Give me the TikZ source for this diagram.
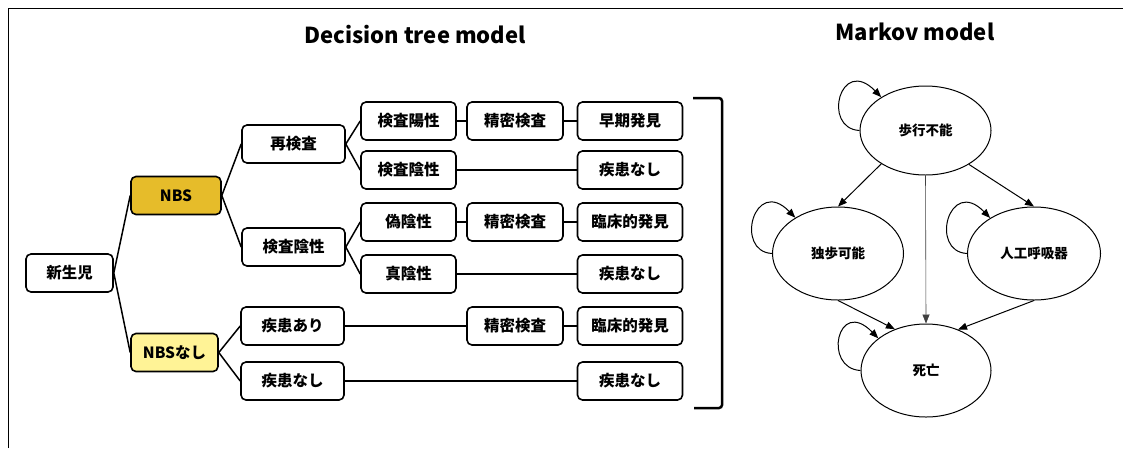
\documentclass[tikz,border=0pt]{standalone}
\usepackage{fontspec}
\setmainfont{Noto Sans CJK JP}
\usetikzlibrary{shapes.geometric,arrows.meta}
\definecolor{nbsgold}{RGB}{230,188,42}
\definecolor{nbslight}{RGB}{255,243,150}
\begin{document}
\begin{tikzpicture}[x=1pt,y=-1pt,
  box/.style={draw, line width=1.6pt, rounded corners=5pt, minimum height=38pt,
    inner sep=0pt, fill=white, font=\fontsize{15.5}{15.5}\selectfont\bfseries},
  link/.style={line width=1.5pt},
  state/.style={draw, ellipse, line width=1pt, inner sep=0pt,
    font=\fontsize{13.5}{13.5}\selectfont\bfseries},
  arr/.style={line width=1pt, -{Triangle[length=9pt,width=7pt]}},
  thinarr/.style={line width=0.6pt, draw=black!75, -{Triangle[length=9pt,width=7pt]}},
  title/.style={font=\fontsize{22}{22}\selectfont\bfseries, anchor=base}]
\useasboundingbox (0,0) rectangle (1123,448);
% outer frame (top and left edges)
\draw[line width=1pt] (8,448) -- (8,8) -- (1123,8);

% titles
\node[title] (ttree) at (415,43) {Decision tree model};
\node[title] (tmarkov) at (915,40) {Markov model};

% ---------- decision tree ----------
\node[box, minimum width=87pt] (root) at (69.5,273) {新生児};
\node[box, minimum width=90pt, fill=nbsgold] (nbs) at (176,195.5) {NBS};
\node[box, minimum width=87pt, fill=nbslight] (nonbs) at (174.5,352.5) {NBSなし};

\node[box, minimum width=103pt] (retest) at (293.5,144) {再検査};
\node[box, minimum width=103pt] (neg) at (293.5,247) {検査陰性};
\node[box, minimum width=103pt] (dis) at (292.5,326) {疾患あり};
\node[box, minimum width=103pt] (nodis) at (292.5,381) {疾患なし};

\node[box, minimum width=95pt] (rpos) at (408.5,121) {検査陽性};
\node[box, minimum width=95pt] (rneg) at (408.5,170) {検査陰性};
\node[box, minimum width=95pt] (fneg) at (408.5,222) {偽陰性};
\node[box, minimum width=95pt] (tneg) at (408.5,274) {真陰性};

\node[box, minimum width=96pt] (ex1) at (515,121) {精密検査};
\node[box, minimum width=96pt] (ex2) at (515,222) {精密検査};
\node[box, minimum width=96pt] (ex3) at (515,326) {精密検査};

\node[box, minimum width=105pt] (o1) at (630,121) {早期発見};
\node[box, minimum width=105pt] (o2) at (630,170) {疾患なし};
\node[box, minimum width=105pt] (o3) at (630,222) {臨床的発見};
\node[box, minimum width=105pt] (o4) at (630,274) {疾患なし};
\node[box, minimum width=105pt] (o5) at (630,326) {臨床的発見};
\node[box, minimum width=105pt] (o6) at (630,381) {疾患なし};

\draw[link] (root.east) -- (nbs.west);
\draw[link] (root.east) -- (nonbs.west);
\draw[link] (nbs.east) -- (retest.west);
\draw[link] (nbs.east) -- (neg.west);
\draw[link] (nonbs.east) -- (dis.west);
\draw[link] (nonbs.east) -- (nodis.west);
\draw[link] (retest.east) -- (rpos.west);
\draw[link] (retest.east) -- (rneg.west);
\draw[link] (neg.east) -- (fneg.west);
\draw[link] (neg.east) -- (tneg.west);
\draw[link] (rpos) -- (ex1);
\draw[link] (ex1) -- (o1);
\draw[link] (rneg) -- (o2);
\draw[link] (fneg) -- (ex2);
\draw[link] (ex2) -- (o3);
\draw[link] (tneg) -- (o4);
\draw[link] (dis) -- (ex3);
\draw[link] (ex3) -- (o5);
\draw[link] (nodis) -- (o6);

% closing bracket
\draw[line width=2.5pt, rounded corners=3pt] (693,98) -- (722,98) -- (722,408) -- (694,408);

% ---------- Markov model ----------
\node[state, minimum width=131pt, minimum height=89pt] (walk) at (925.5,130.5) {歩行不能};
\node[state, minimum width=131pt, minimum height=93pt] (indep) at (838,253.5) {独歩可能};
\node[state, minimum width=133pt, minimum height=93pt] (vent) at (1034,253.5) {人工呼吸器};
\node[state, minimum width=130pt, minimum height=93pt] (death) at (926,370.5) {死亡};

\draw[arr] (walk.217) -- (indep.north);
\draw[arr] (walk.322) -- (vent.north);
\draw[thinarr] (walk.south) -- (death.north);
\draw[arr] (indep.south) -- (death.127);
\draw[arr] (vent.south) -- (death.52);

% self transitions
\draw[arr] (walk.180) .. controls +(-38,-2) and +(-41,-42) .. (walk.143);
\draw[arr] (indep.180) .. controls +(-38,-2) and +(-41,-42) .. (indep.140);
\draw[arr] (vent.180) .. controls +(-38,-2) and +(-41,-42) .. (vent.141);
\draw[arr] (death.180) .. controls +(-38,-2) and +(-41,-42) .. (death.146);
\end{tikzpicture}
\end{document}
